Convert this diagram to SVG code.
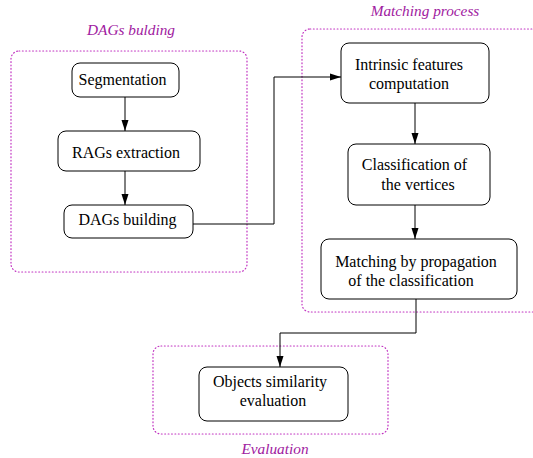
<svg xmlns="http://www.w3.org/2000/svg" width="533" height="458" viewBox="0 0 533 458">
<defs>
<marker id="ah" viewBox="0 0 11 10" refX="11" refY="5" markerWidth="11" markerHeight="10" markerUnits="userSpaceOnUse" orient="auto">
<path d="M0,1.5 L11,5 L0,8.5 Z" fill="#000"/>
</marker>
<style>
.cl{fill:none;stroke:#c030c0;stroke-width:1.2;stroke-dasharray:0.8 2.6;stroke-linecap:round}
.cll{font-style:italic;fill:#a020a0;text-anchor:middle}
.nd{fill:#fff;stroke:#000;stroke-width:1}
.t{fill:#000;text-anchor:middle}
.e{fill:none;stroke:#000;stroke-width:1;marker-end:url(#ah)}
</style>
</defs>
<g id="clusters">
<rect class="cl" x="11" y="51" width="236" height="221" rx="8"/>
<text class="cll" font-family="Liberation Serif" font-size="15.3" x="131" y="35">DAGs bulding</text>
<rect class="cl" x="302" y="29" width="240" height="283" rx="8"/>
<text class="cll" font-family="Liberation Serif" font-size="15.3" x="425" y="16">Matching process</text>
<rect class="cl" x="153" y="346" width="235" height="88" rx="8"/>
<text class="cll" font-family="Liberation Serif" font-size="15.3" x="275" y="454">Evaluation</text>
</g>
<g id="connectors">
<path class="e" d="M125,97 V131"/>
<path class="e" d="M125,171 V205"/>
<path class="e" d="M193,224 H274 V77 H341"/>
<path class="e" d="M415,103 V144"/>
<path class="e" d="M415,205 V239"/>
<path class="e" d="M416,299 V333 H280 V367"/>
</g>
<g id="n1"><rect class="nd" x="72" y="63" width="107" height="34" rx="8"/><text class="t" font-family="Liberation Serif" font-size="16" x="122.5" y="85">Segmentation</text></g>
<g id="n2"><rect class="nd" x="58" y="131" width="142" height="40" rx="8"/><text class="t" font-family="Liberation Serif" font-size="16" x="126" y="158">RAGs extraction</text></g>
<g id="n3"><rect class="nd" x="64" y="205" width="129" height="33" rx="8"/><text class="t" font-family="Liberation Serif" font-size="16" x="127.5" y="225">DAGs building</text></g>
<g id="n4"><rect class="nd" x="341" y="43" width="148" height="60" rx="8"/><text class="t" font-family="Liberation Serif" font-size="16" x="409" y="70">Intrinsic features</text><text class="t" font-family="Liberation Serif" font-size="16" x="409" y="89">computation</text></g>
<g id="n5"><rect class="nd" x="348" y="144" width="142" height="61" rx="8"/><text class="t" font-family="Liberation Serif" font-size="16" x="414.5" y="170">Classification of</text><text class="t" font-family="Liberation Serif" font-size="16" x="418" y="190">the vertices</text></g>
<g id="n6"><rect class="nd" x="321" y="239" width="196" height="60" rx="8"/><text class="t" font-family="Liberation Serif" font-size="16" x="416" y="267">Matching by propagation</text><text class="t" font-family="Liberation Serif" font-size="16" x="411" y="286">of the classification</text></g>
<g id="n7"><rect class="nd" x="199" y="367" width="149" height="54" rx="8"/><text class="t" font-family="Liberation Serif" font-size="16" x="270" y="387">Objects similarity</text><text class="t" font-family="Liberation Serif" font-size="16" x="273" y="406">evaluation</text></g>
</svg>
